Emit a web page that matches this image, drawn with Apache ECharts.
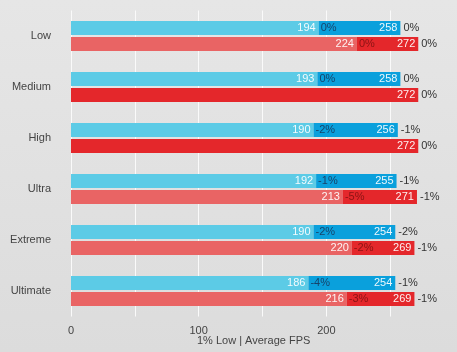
<!DOCTYPE html>
<html>
<head>
<meta charset="utf-8">
<script src="https://cdn.jsdelivr.net/npm/echarts@6/dist/echarts.min.js"></script>
<style>
  html, body { margin: 0; padding: 0; }
  #chart { width: 457px; height: 352px; }
</style>
</head>
<body>
<div id="chart"></div>
<script>
var categories = ['Low', 'Medium', 'High', 'Ultra', 'Extreme', 'Ultimate']
var xTicks = [0, 100, 200]

// blue group
var blueLow = [194, 193, 190, 192, 190, 186]
var blueLowPct = ['0%', '0%', '-2%', '-1%', '-2%', '-4%']
var blueAvg = [258, 258, 256, 255, 254, 254]
var blueAvgPct = ['0%', '0%', '-1%', '-1%', '-2%', '-1%']

// red group (no 1% low for Medium / High)
var redLow = [224, null, null, 213, 220, 216]
var redLowPct = ['0%', '', '', '-5%', '-2%', '-3%']
var redAvg = [272, 272, 272, 271, 269, 269]
var redAvgPct = ['0%', '0%', '0%', '-1%', '-1%', '-1%']

var font = 'Liberation Sans, Arial, sans-serif'

function group (key, low, lowPct, avg, avgPct, light, dark, pctInner) {
  var rest = avg.map(function (v, i) { return v - (low[i] || 0) })
  var zeroLow = lowPct.map(function (p) { return p ? 0 : null })
  var zeroAvg = avgPct.map(function () { return 0 })
  return [
    {
      type: 'bar', stack: key, barWidth: 14, data: low,
      itemStyle: { color: light },
      label: {
        show: true, position: 'insideRight', distance: 3,
        color: 'rgba(255,255,255,0.92)', fontSize: 11, fontFamily: font,
        formatter: function (p) { return p.value == null ? '' : p.value }
      }
    },
    {
      type: 'bar', stack: key, barWidth: 14, data: zeroLow, z: 5,
      label: {
        show: true, position: 'right', distance: 2,
        color: pctInner, fontSize: 11, fontFamily: font,
        formatter: function (p) { return lowPct[p.dataIndex] }
      }
    },
    {
      type: 'bar', stack: key, barWidth: 14, data: rest,
      itemStyle: { color: dark },
      label: {
        show: true, position: 'insideRight', distance: 3,
        color: 'rgba(255,255,255,0.92)', fontSize: 11, fontFamily: font,
        formatter: function (p) { return avg[p.dataIndex] }
      }
    },
    {
      type: 'bar', stack: key, barWidth: 14, barGap: '15%', data: zeroAvg, z: 5,
      label: {
        show: true, position: 'right', distance: 3,
        color: '#333', fontSize: 11, fontFamily: font,
        formatter: function (p) { return avgPct[p.dataIndex] }
      }
    }
  ]
}

var myChart = echarts.init(document.getElementById('chart'))
var option = {
  animation: false,
  backgroundColor: new echarts.graphic.LinearGradient(0, 0, 0, 1, [
    { offset: 0, color: '#e6e6e6' },
    { offset: 1, color: '#dcdcdc' }
  ]),
  grid: { left: 71, width: 384, top: 10.5, bottom: 35.5 },
  xAxis: {
    type: 'value', min: 0, max: 300, interval: 50,
    axisLine: { show: false },
    axisTick: { show: false },
    axisLabel: {
      color: '#444', fontSize: 11, fontFamily: font, margin: 9,
      formatter: function (v) { return xTicks.indexOf(v) >= 0 ? v : '' }
    },
    splitLine: {
      lineStyle: { color: ['#fafafa', '#fafafa', '#fafafa', '#fafafa', '#fafafa', '#fafafa', 'rgba(0,0,0,0)'], width: 1 }
    }
  },
  yAxis: {
    type: 'category', inverse: true, data: categories,
    axisLine: { show: false },
    axisTick: { show: false },
    axisLabel: { color: '#444', fontSize: 11, fontFamily: font, margin: 20 }
  },
  graphic: [{
    type: 'text', left: 197, top: 335,
    style: { text: '1% Low | Average FPS', fill: '#444', font: '11px ' + font }
  }],
  series: [].concat(
    group('blue', blueLow, blueLowPct, blueAvg, blueAvgPct, '#5ccbe6', '#0aa0dc', '#17436a'),
    group('red', redLow, redLowPct, redAvg, redAvgPct, '#e96464', '#e4272b', '#8a1414')
  )
}
myChart.setOption(option)
</script>
</body>
</html>
